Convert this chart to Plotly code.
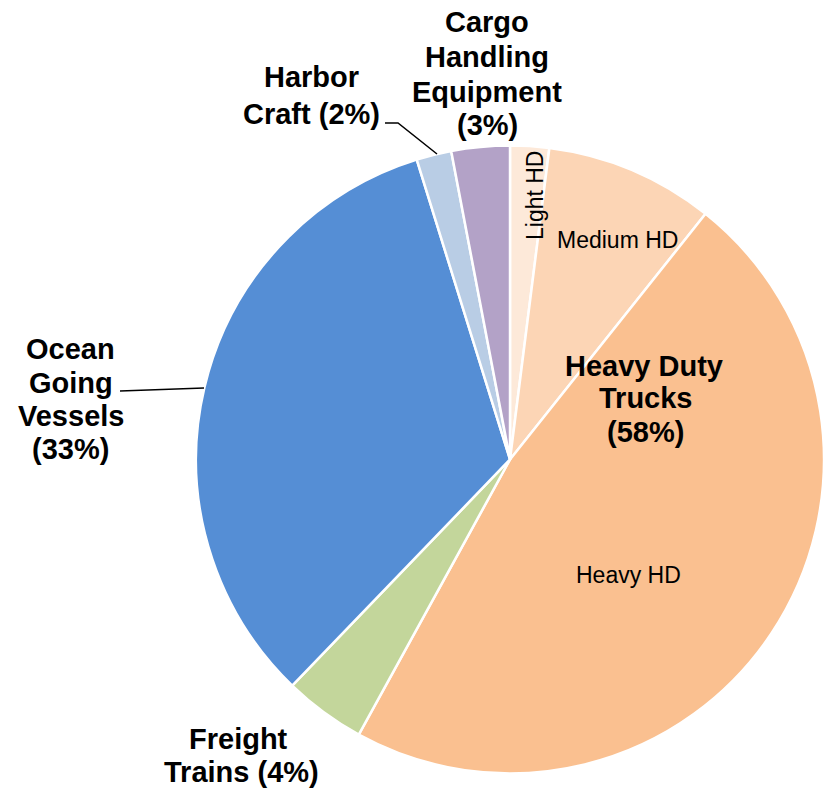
import plotly.graph_objects as go

W, H = 824, 791

# 슬라이스 (12시 방향부터 시계 방향)
labels = ["Light HD", "Medium HD", "Heavy HD", "Freight Trains",
          "Ocean Going Vessels", "Harbor Craft", "Cargo Handling Equipment"]
values = [2.0, 8.7, 47.3, 4.2, 33.0, 1.8, 3.0]
colors = ["#fde9d9", "#fcd5b5", "#fac090", "#c3d69b",
          "#558ed5", "#b9cde5", "#b3a2c7"]

FONT = "Liberation Sans, Arial, sans-serif"


def px2paper(x, y):
    return x / W, 1 - y / H


fig = go.Figure(go.Pie(
    labels=labels,
    values=values,
    sort=False,
    direction="clockwise",
    rotation=0,
    marker=dict(colors=colors, line=dict(color="white", width=2.5)),
    textinfo="none",
    hoverinfo="label+percent",
    domain=dict(x=[0.2379, 1.0], y=[0.0221, 0.8161]),
    showlegend=False,
))

# 라벨: 줄마다 따로 놓아서 줄 간격을 원본에 맞춘다
# (텍스트, x px, y px 중심)
bold_lines = [
    ("Cargo", 487, 22), ("Handling", 487, 57), ("Equipment", 487, 92), ("(3%)", 487, 125),
    ("Harbor", 311, 77), ("Craft (2%)", 311, 114),
    ("Ocean", 70, 349), ("Going", 71, 383), ("Vessels", 71, 416), ("(33%)", 70, 449),
    ("Freight", 239, 739), ("Trains (4%)", 242, 772),
    ("Heavy Duty", 644, 366), ("Trucks", 646, 398), ("(58%)", 645, 432),
]
plain_lines = [
    ("Medium HD", 617, 240, 0),
    ("Light HD", 535, 196, -90),
    ("Heavy HD", 628, 575, 0),
]

for text, x, y in bold_lines:
    ax, ay = px2paper(x, y)
    fig.add_annotation(
        x=ax, y=ay, xref="paper", yref="paper", text=f"<b>{text}</b>",
        showarrow=False, font=dict(family=FONT, size=29, color="black"),
        xanchor="center", yanchor="middle",
    )
for text, x, y, angle in plain_lines:
    ax, ay = px2paper(x, y)
    fig.add_annotation(
        x=ax, y=ay, xref="paper", yref="paper", text=text,
        showarrow=False, textangle=angle,
        font=dict(family=FONT, size=23, color="black"),
        xanchor="center", yanchor="middle",
    )

# 지시선
leaders = [
    [(385, 123), (398, 123), (437, 154)],
    [(120, 391), (204, 388)],
]
for pts in leaders:
    path = ""
    for i, (x, y) in enumerate(pts):
        px_, py_ = px2paper(x, y)
        path += ("M" if i == 0 else "L") + f"{px_},{py_} "
    fig.add_shape(type="path", path=path.strip(), xref="paper", yref="paper",
                  line=dict(color="black", width=1.5))

fig.update_layout(
    width=W, height=H,
    margin=dict(l=0, r=0, t=0, b=0),
    paper_bgcolor="white",
    plot_bgcolor="white",
    font=dict(family=FONT),
)

# body 기본 여백(8px)을 없애서 창 크기에 딱 맞춘다
fig.write_html("out.html", config={"displayModeBar": False},
               post_script="document.body.style.margin='0';")
